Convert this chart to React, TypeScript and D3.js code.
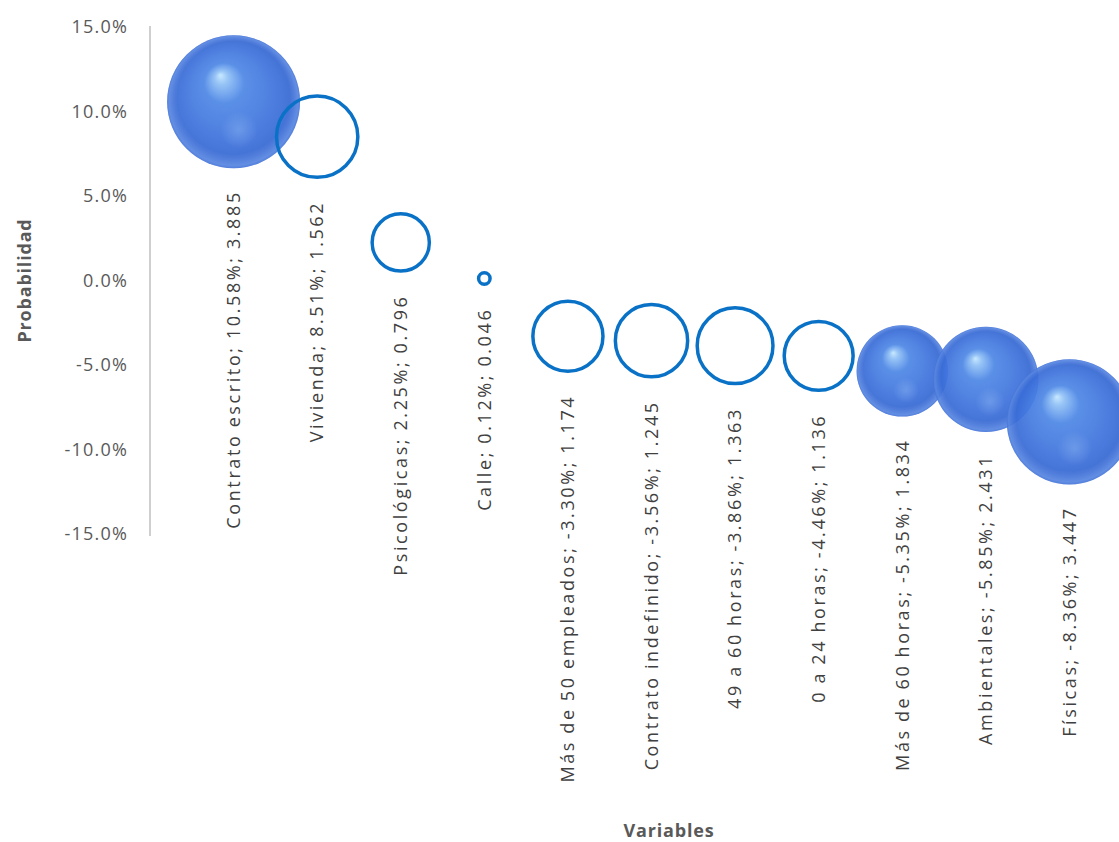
import React from "react";
import * as d3 from "d3";

const categories = [
  "Contrato escrito",
  "Vivienda",
  "Psicológicas",
  "Calle",
  "Más de 50 empleados",
  "Contrato indefinido",
  "49 a 60 horas",
  "0 a 24 horas",
  "Más de 60 horas",
  "Ambientales",
  "Físicas",
];
const probabilities = [10.58, 8.51, 2.25, 0.12, -3.3, -3.56, -3.86, -4.46, -5.35, -5.85, -8.36];
const sizeLabels = ["3.885", "1.562", "0.796", "0.046", "1.174", "1.245", "1.363", "1.136", "1.834", "2.431", "3.447"];
const sizes = sizeLabels.map(Number);
const filledFlags = [true, false, false, false, false, false, false, false, true, true, true];
const yTicks = [15, 10, 5, 0, -5, -10, -15];

const W = 1119;
const H = 842;

export default function App() {
  const x = d3.scaleLinear().domain([0, 12]).range([150, 1153]);
  const y = d3.scaleLinear().domain([-15, 15]).range([534, 27]);
  const r = d3.scaleSqrt().domain([0, 3.885]).range([0, 66.5]);
  const fmt = (v: number) => v.toFixed(1) + "%";
  const fmt2 = (v: number) => v.toFixed(2) + "%";

  const pts = categories.map((c, i) => ({
    c,
    i,
    cx: x(i + 1),
    cy: y(probabilities[i]),
    rr: r(sizes[i]),
    filled: filledFlags[i],
    label: `${c}; ${fmt2(probabilities[i])}; ${sizeLabels[i]}`,
  }));

  const font = "'Open Sans', 'Noto Sans', sans-serif";

  return (
    <svg
      width={W}
      height={H}
      style={{ position: "absolute", left: 0, top: 0, background: "#fff" }}
      fontFamily={font}
    >
      <defs>
        <radialGradient id="sphere" cx="50%" cy="50%" r="50%" fx="40%" fy="30%">
          <stop offset="0%" stopColor="#c4e8ff" />
          <stop offset="10%" stopColor="#90c0f6" />
          <stop offset="30%" stopColor="#4f88e6" />
          <stop offset="70%" stopColor="#3f73dc" />
          <stop offset="93%" stopColor="#3566d2" />
          <stop offset="100%" stopColor="#3566d2" />
        </radialGradient>
        <radialGradient id="rim" cx="50%" cy="50%" r="50%" fx="50%" fy="30%">
          <stop offset="85%" stopColor="#7aa6f0" stopOpacity="0" />
          <stop offset="97%" stopColor="#7aa6f0" stopOpacity="0.5" />
          <stop offset="100%" stopColor="#7aa6f0" stopOpacity="0.25" />
        </radialGradient>
        <radialGradient id="spot" cx="50%" cy="50%" r="50%">
          <stop offset="0%" stopColor="#7eaaf0" stopOpacity="0.5" />
          <stop offset="100%" stopColor="#7eaaf0" stopOpacity="0" />
        </radialGradient>
      </defs>

      {/* y axis line */}
      <line x1={150} x2={150} y1={y(15) - 1} y2={y(-15) + 2} stroke="#bfbfbf" strokeWidth={1.5} />

      {/* y tick labels */}
      {yTicks.map((t) => (
        <text
          key={t}
          x={128}
          y={y(t)}
          dy="0.35em"
          textAnchor="end"
          fontSize={18}
          letterSpacing={1.2}
          fill="#595959"
        >
          {fmt(t)}
        </text>
      ))}

      {/* filled bubbles */}
      {pts
        .filter((p) => p.filled)
        .map((p) => (
          <g key={"f" + p.i} opacity={0.93}>
            <circle cx={p.cx} cy={p.cy} r={p.rr} fill="url(#sphere)" />
            <circle cx={p.cx} cy={p.cy} r={p.rr} fill="url(#rim)" />
            <circle cx={p.cx + p.rr * 0.08} cy={p.cy + p.rr * 0.42} r={p.rr * 0.28} fill="url(#spot)" />
          </g>
        ))}

      {/* hollow bubbles */}
      {pts
        .filter((p) => !p.filled)
        .map((p) => (
          <circle
            key={"h" + p.i}
            cx={p.cx}
            cy={p.cy}
            r={Math.max(p.rr - 1.5, 2.5)}
            fill="none"
            stroke="#0a72c6"
            strokeWidth={3.5}
          />
        ))}

      {/* data labels */}
      {pts.map((p) => (
        <text
          key={"l" + p.i}
          transform={`translate(${p.cx},${p.cy + p.rr + 22}) rotate(-90)`}
          textAnchor="end"
          dy="0.35em"
          fontSize={18}
          letterSpacing={2.6}
          wordSpacing={-1}
          fill="#404040"
        >
          {p.label}
        </text>
      ))}

      {/* axis titles */}
      <text
        transform={`translate(25,${y(0)}) rotate(-90)`}
        textAnchor="middle"
        dy="0.35em"
        fontSize={18}
        fontWeight="bold"
        letterSpacing={0.8}
        fill="#595959"
      >
        Probabilidad
      </text>
      <text x={669} y={831} dy="0.35em" textAnchor="middle" fontSize={18} fontWeight="bold" letterSpacing={0.8} fill="#595959">
        Variables
      </text>
    </svg>
  );
}
